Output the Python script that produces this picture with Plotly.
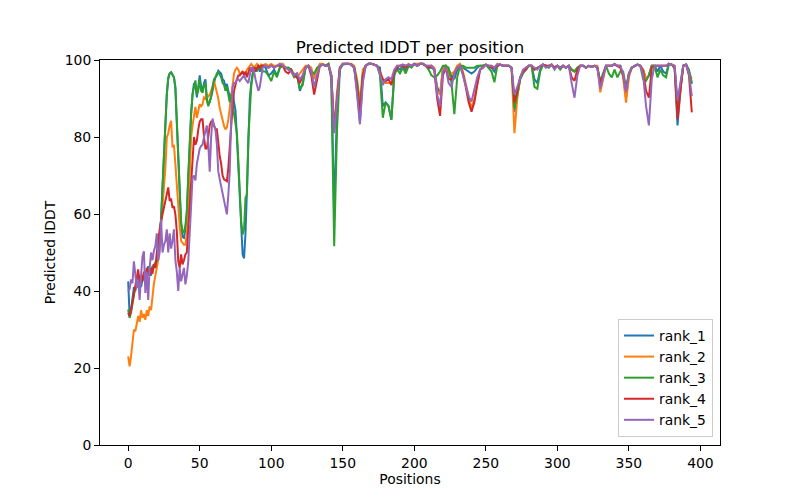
import plotly.graph_objects as go

# ---- data -------------------------------------------------------------
positions = list(range(0, 95)) + list(range(96, 395, 2))

series_names = ["rank_1", "rank_2", "rank_3", "rank_4", "rank_5"]
colors = ["#1f77b4", "#ff7f0e", "#2ca02c", "#d62728", "#9467bd"]

rank_1_head = [42.5, 33.5, 35, 39, 41, 40, 42, 44, 43, 41,
               43, 44.5, 43, 45.5, 46.4, 45, 44, 46, 47, 46,
               48, 50, 54, 59, 67, 76, 85, 91, 95, 96.5,
               96.8, 96.3, 95.5, 92.5, 84, 73, 64, 57, 54, 53.8,
               56, 60, 69, 79, 86, 91, 94, 93.5, 90.3, 93,
               96, 93, 92, 94, 95, 90, 88.5, 89, 90.3, 92,
               94, 95.5, 96, 97.2, 96.8, 96.5, 95, 94.6, 93, 93.8,
               92, 90.3, 91, 92, 89, 87, 80, 73, 65, 57,
               49.5, 48.5, 55, 66, 80, 90, 94, 96.4, 97.5, 98,
               97.5, 98, 97, 98, 98.5]
rank_1_tail = [98, 96, 96.5, 97.5, 96, 98, 98.5, 98, 98, 97.5,
               96, 96.5, 92, 94, 98, 98.5, 97, 96, 97.5, 98.5,
               98.8, 98.5, 99, 96, 60, 88, 98, 98.8, 99, 99,
               98.8, 98, 92, 84, 95, 98.5, 99, 99, 98.8, 98.5,
               98, 88, 89, 88, 84.5, 96, 98, 97.5, 98.5, 97,
               98.5, 98.2, 99, 98.5, 99, 99, 98.5, 98, 98, 97.5,
               93, 91, 97.5, 98.5, 97.5, 96, 95, 97.5, 98.5, 98,
               97.5, 97, 96.5, 97, 98, 98.5, 98.5, 98.8, 98.5, 98,
               97, 98.5, 98.8, 98.5, 98.5, 98.5, 98, 86.5, 91, 95,
               97, 97.5, 98.5, 98.5, 95, 94, 97.5, 98.8, 98.5, 98.2,
               98.8, 98, 98.5, 97.8, 98.5, 98, 98.5, 97.5, 97, 98,
               98.5, 98.5, 98, 98.5, 98.2, 98.5, 98, 93.8, 96, 98.5,
               98.5, 98.5, 99, 98.5, 98.5, 96, 90.2, 96, 98, 98.5,
               98.8, 98.5, 97.5, 95, 96, 98.5, 98.5, 97, 98.5, 97,
               96.5, 99, 98.8, 98, 83, 92, 98.5, 98.8, 97, 94]

rank_2_head = [23, 20.4, 23, 27, 30, 29.5, 32, 33.5, 32, 35,
               33, 34, 32.5, 35, 33.5, 36, 35, 39, 42, 44,
               46.5, 48, 52, 57, 62, 67, 72, 79.9, 81, 83,
               84.2, 77.3, 78, 72.9, 67, 62.5, 57, 53, 52.5, 52,
               52, 55, 60, 72, 80, 83, 86, 87.8, 85, 87,
               88.5, 88, 88.5, 90.3, 90, 91.1, 90.5, 91, 92, 93,
               94.6, 93, 92, 90, 87.5, 85.9, 84, 82.9, 82, 82.5,
               84.5, 87.7, 91, 94.6, 96.5, 97.5, 98, 97.5, 96.4, 96.5,
               97, 96.4, 96.5, 97.5, 98, 98.5, 99, 98.5, 98, 98.5,
               99, 98.5, 98, 98.8, 98.5]
rank_2_tail = [99, 98.5, 99, 98.5, 98.5, 99, 99, 98, 97.5, 97,
               96.5, 95.5, 96.5, 97.5, 98.5, 98.5, 98, 95, 97.5, 99,
               99, 98.5, 99, 96, 82, 92, 98, 99, 99, 99,
               99, 98.5, 95, 89, 97.5, 98.5, 99, 99, 98.8, 98.5,
               97, 95, 94, 94, 94, 97, 98.5, 98.5, 98.8, 98.5,
               99, 98.5, 99, 99, 99, 99, 98.5, 98.5, 98.5, 98,
               92, 91, 98, 98.5, 96.5, 96.5, 97, 98.5, 99, 97,
               93.5, 90, 87.4, 90, 94, 97.5, 98.5, 98.8, 98.5, 98.5,
               98, 99, 98.8, 98.5, 98.5, 98.5, 98, 81, 90, 95.5,
               97, 97.5, 98.5, 98.5, 97.5, 98, 98.5, 98.8, 98.5, 98.5,
               98.8, 98, 98.5, 98, 98.5, 98, 98.5, 97.5, 97, 98,
               98.5, 98.5, 98, 98.5, 98.2, 98.5, 98.5, 91.6, 95, 98.5,
               98.5, 98.5, 99, 98.5, 98.5, 95.5, 88.9, 95.5, 98, 98.5,
               98.8, 98.5, 97.5, 95, 96, 98.5, 98.5, 98.5, 98.5, 98.5,
               98.5, 99, 98.8, 98.5, 86, 93, 98.5, 98.8, 97, 95]

rank_3_head = [35.2, 33, 34.5, 37, 39.5, 41, 41.5, 43, 44, 42.5,
               43, 44, 42, 45, 44.5, 46, 45, 46.5, 46, 47.5,
               47.7, 49.5, 54, 58.2, 66.9, 76, 85, 91.2, 95.5, 96.5,
               96.8, 96.3, 95.5, 93, 84.2, 74, 65, 58, 55.5, 55.1,
               57, 60.8, 70, 79.9, 86, 91.2, 93.5, 94.7, 91, 92,
               95, 92, 91.5, 93.5, 94, 89.4, 88, 89.5, 90.5, 93,
               95, 95.5, 96.5, 96.8, 96, 95.5, 94, 93.5, 92, 93,
               91, 89, 91, 88.5, 86, 84, 81, 74, 65, 58,
               54.7, 56, 64.2, 65, 80, 88, 93, 96, 97.5, 98,
               97, 98.5, 98, 98.5, 97]
rank_3_tail = [97, 96, 94.5, 97, 95.5, 98, 98.5, 98, 98, 97,
               95.5, 96, 92.5, 93.5, 98, 98.5, 97, 96.5, 98, 98.5,
               98.8, 98.5, 99, 95, 51.6, 82, 97.5, 98.8, 99, 99,
               98.8, 98, 94, 87, 96, 98.5, 99, 99, 98.8, 98.5,
               96, 85, 89, 88, 84.5, 96.5, 97.5, 96.5, 98, 96.5,
               98.5, 98, 99, 98.5, 99, 99, 98.5, 97.5, 96, 95.5,
               96, 97, 98.5, 98.5, 98, 94, 85.9, 95.5, 98.5, 98.5,
               98, 98, 98, 98, 98.5, 98.5, 98.5, 98.8, 98, 97,
               94.2, 98.5, 98.8, 98.5, 98.5, 98.5, 98, 87.5, 91, 95,
               96.5, 97.5, 98.5, 98.5, 93, 92.5, 97, 98.8, 98.5, 98,
               98.8, 98, 98.5, 97.5, 98.5, 98, 98.5, 97.5, 97, 98,
               98.5, 98.5, 98, 98.5, 98.2, 98.5, 98, 94.5, 96.5, 98.5,
               96.5, 95.5, 97.5, 95.5, 97, 97, 92.9, 96.5, 98, 98.5,
               98.8, 98.5, 95, 94.6, 96, 98.5, 98.5, 95.5, 97.5, 96,
               95.5, 99, 98.8, 98, 88, 93.5, 98.5, 98.8, 97.5, 93.8]

rank_4_head = [34.3, 33.5, 35, 37, 40, 41.5, 43.9, 45.6, 42, 44,
               42.5, 45, 43, 46, 44.5, 44, 46, 44.5, 47, 46,
               50, 53.8, 56, 58.2, 60, 61.6, 63, 65.1, 66.9, 63.4,
               64, 61.6, 62, 59.9, 55.5, 47.7, 46, 49.5, 46.9, 48,
               49.5, 50, 56.4, 62.5, 68.6, 75.5, 80, 78, 79, 82,
               84, 84.6, 84.6, 80, 77, 77, 80, 83, 84, 84,
               83, 82, 82, 78, 75, 73, 70, 69, 68.7, 68.5,
               72, 78, 84, 88, 92, 93.7, 95, 96, 96, 96.5,
               97, 96, 97, 95.5, 97, 98, 97, 98, 98, 97,
               98, 98.5, 98, 98.5, 98.5]
rank_4_tail = [98.5, 98, 98.5, 98, 98.5, 98.5, 98.5, 97, 96.5, 97.5,
               96, 95.5, 94, 96, 98, 98.5, 96, 91, 95, 98.5,
               98.8, 98.5, 98.5, 96, 82, 90, 98, 99, 99, 99,
               98.8, 98, 93, 86, 96, 98.5, 99, 99, 98.8, 98.5,
               97, 95, 94.5, 95, 93.5, 97, 98, 98.5, 98.5, 98,
               98.8, 98.5, 99, 98.5, 99, 99, 98.5, 98, 98.5, 97.5,
               90, 85.5, 96, 98, 95, 95, 96.5, 98, 98.5, 96.5,
               93, 89, 86.6, 89, 93.5, 97.5, 98, 98.8, 98.5, 98,
               98, 98.5, 98.8, 98.5, 98.5, 98.5, 98, 89, 92, 95.5,
               97, 97.5, 98.5, 98.5, 97.5, 98, 98.5, 98.8, 98.5, 98.5,
               98.8, 98, 98.5, 98, 98.5, 98, 98.5, 95.5, 94.6, 97.5,
               98.5, 98.5, 98, 98.5, 98.2, 98.5, 98, 93.8, 96, 98.5,
               98.5, 98.5, 98.8, 98.5, 98, 96, 92, 96.5, 98, 98.5,
               98.8, 98.5, 97, 92, 90.2, 98, 98.5, 98.5, 98.5, 98.5,
               98.5, 99, 98.8, 98, 84.6, 92, 98.5, 98.8, 96, 86.4]

rank_5_head = [39.9, 40.5, 43, 42, 47.7, 44, 40.8, 43, 37.7, 44,
               49, 50.3, 39.5, 45, 37.7, 46, 50, 48, 50.5, 51.6,
               55, 48, 50, 58.6, 50, 52, 53, 56, 50, 55,
               51, 53, 56, 48, 45, 40, 46, 42.5, 44, 46,
               41.7, 44, 47.7, 55, 62, 69.5, 70, 68.7, 73, 75,
               77, 77.7, 78, 80, 82, 83, 78, 71, 80, 84.8,
               83, 82, 78, 71, 69, 67, 66, 63, 61.7, 59.9,
               65, 71, 85, 93, 94, 94, 95, 95, 94.5, 95,
               95.5, 96, 95, 94.5, 94, 96, 98, 98, 97, 95,
               93, 92, 93, 96, 98]
rank_5_tail = [98.5, 98, 98.5, 98, 98.5, 99, 98.5, 98, 97.5, 97,
               96, 96.5, 95, 96, 98, 98.5, 97, 93, 96, 98.5,
               98.8, 98.5, 98.5, 96, 81, 90, 98, 99, 99, 99,
               98.8, 98, 91, 83.3, 94, 98.5, 99, 99, 98.8, 98.5,
               96.5, 93.5, 95, 95.5, 95, 97.5, 98.5, 98.5, 98.8, 98.5,
               98.8, 98.5, 99, 98.5, 99, 99, 98.5, 98.5, 98.5, 97.5,
               91, 88, 97, 98, 94, 93, 96.5, 98, 98.5, 96,
               93, 90.5, 89.2, 92, 95.5, 97.5, 98, 98.8, 98.5, 98.5,
               98, 98.8, 98.8, 98.5, 98.5, 98.5, 98, 91, 93, 95.5,
               97.5, 98, 98.5, 98.5, 98, 97.5, 98.5, 98.8, 98, 98.5,
               98.8, 97.5, 98.5, 98, 98.5, 98, 98.5, 94, 90.2, 96,
               98.5, 98.5, 98, 98.5, 98.2, 98.5, 98, 92.5, 95.5, 98.5,
               98.5, 98.5, 99, 98.5, 98.5, 96.5, 91.6, 96.5, 98, 98.5,
               98.8, 98.5, 96, 88, 83, 95, 98.5, 98.5, 98.5, 98.5,
               98.5, 99, 98.8, 98.5, 89.5, 94, 98.5, 98.8, 96.5, 90.6]

rank_values = [rank_1_head + rank_1_tail, rank_2_head + rank_2_tail,
               rank_3_head + rank_3_tail, rank_4_head + rank_4_tail,
               rank_5_head + rank_5_tail]

x_ticks = [0, 50, 100, 150, 200, 250, 300, 350, 400]
y_ticks = [0, 20, 40, 60, 80, 100]

for name, vals in zip(series_names, rank_values):
    assert len(vals) == len(positions), (name, len(vals), len(positions))

# ---- figure -----------------------------------------------------------
fig = go.Figure()
for name, vals, col in zip(series_names, rank_values, colors):
    fig.add_trace(go.Scatter(x=positions, y=vals, mode="lines", name=name,
                             line=dict(color=col, width=2)))

font_family = "DejaVu Sans"
axis_common = dict(showline=True, linecolor="black", linewidth=1, mirror=True,
                   ticks="outside", ticklen=5, tickwidth=1, tickcolor="black",
                   showgrid=False, zeroline=False, automargin=False,
                   tickfont=dict(family=font_family, size=13.9, color="black"))

# the page adds an 8px body margin, so the figure is 784x484 placed at (8, 8)
fig.update_layout(
    width=784, height=484,
    margin=dict(l=92, r=72, t=52, b=47),
    paper_bgcolor="white", plot_bgcolor="white",
    font=dict(family=font_family, size=13.9, color="black"),
    title=dict(text="Predicted lDDT per position", x=0.5, xanchor="center",
               xref="paper", yref="paper", y=1, yanchor="bottom",
               pad=dict(b=7), font=dict(family=font_family, size=16.7, color="black")),
    xaxis=dict(range=[-19.7, 413.7], tickvals=x_ticks,
               title=dict(text="Positions", standoff=2,
                          font=dict(family=font_family, size=13.9)),
               **axis_common),
    yaxis=dict(range=[0, 100], tickvals=y_ticks,
               title=dict(text="Predicted lDDT", standoff=5,
                          font=dict(family=font_family, size=13.9)),
               **axis_common),
    legend=dict(x=0.9887, y=0.0208, xanchor="right", yanchor="bottom",
                bgcolor="rgba(255,255,255,0.8)", bordercolor="#cccccc",
                borderwidth=1, itemwidth=30,
                font=dict(family=font_family, size=13.9, color="black"),
                tracegroupgap=0),
    showlegend=True,
)

fig.write_html("out.html")
